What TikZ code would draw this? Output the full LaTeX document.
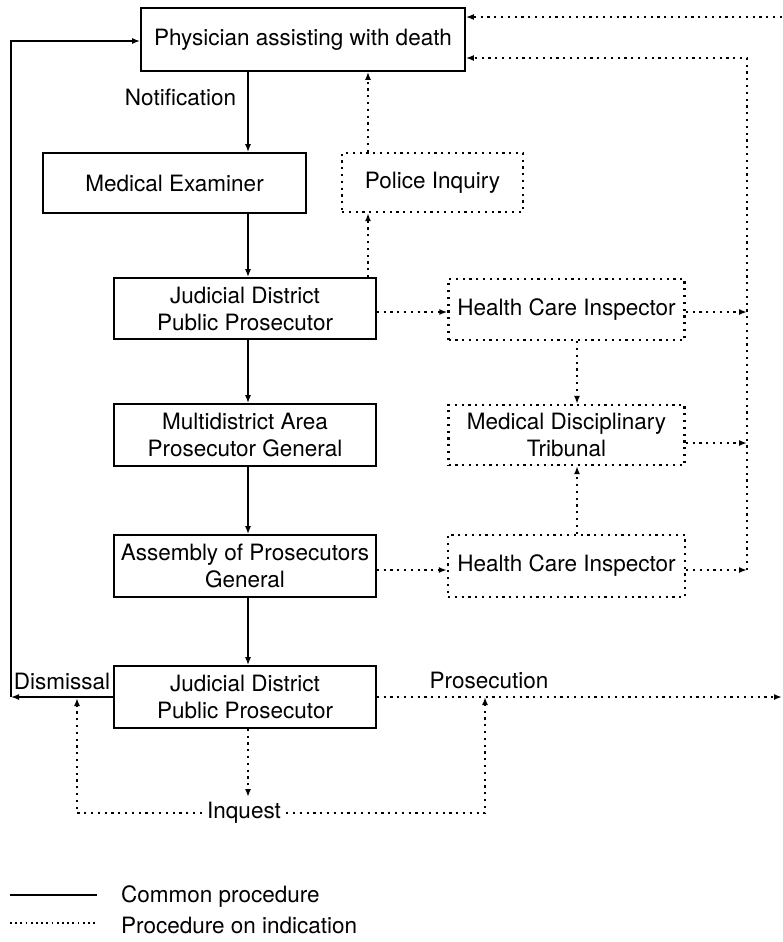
\documentclass[tikz,border=0pt]{standalone}
\usepackage{fontspec}
\setmainfont{TeX Gyre Heros}
\usetikzlibrary{arrows.meta}
\begin{document}
\begin{tikzpicture}[x=1pt,y=-1pt,
  every node/.style={font=\fontsize{22.5}{27}\selectfont, inner sep=0pt, align=center},
  solidbox/.style={draw, line width=1.7pt, minimum width=#1},
  dotbox/.style={draw, line width=2.4pt, dash pattern=on 2.2pt off 4.6pt, minimum width=#1},
  conn/.style={line width=1.4pt, -{Latex[length=8pt,width=6pt]}},
  dconn/.style={line width=2.4pt, dash pattern=on 2.2pt off 4.6pt, -{Latex[length=8pt,width=6pt]}},
  dline/.style={line width=2pt, dash pattern=on 1.8pt off 3.4pt},
  sline/.style={line width=1.4pt}
]
\useasboundingbox (0,0) rectangle (782,942);

% boxes
\node[solidbox=324pt, minimum height=63pt] (box1) at (303,39.5) {Physician assisting with death};
\node[solidbox=263pt, minimum height=60pt] (me) at (174.5,183) {Medical Examiner};
\node[dotbox=181pt, minimum height=59pt] (pol) at (432.5,182.5) {Police Inquiry};
\node[solidbox=262pt, minimum height=61pt] (jd1) at (245,308.5) {Judicial District\\Public Prosecutor};
\node[dotbox=236pt, minimum height=61pt] (hci1) at (566.5,309.5) {Health Care Inspector};
\node[solidbox=262pt, minimum height=62pt] (multi) at (245,435) {Multidistrict Area\\Prosecutor General};
\node[dotbox=236pt, minimum height=60pt] (mdt) at (566.5,435) {Medical Disciplinary\\Tribunal};
\node[solidbox=262pt, minimum height=62pt] (asm) at (245,566) {Assembly of Prosecutors\\General};
\node[dotbox=237pt, minimum height=62pt] (hci2) at (566.5,566) {Health Care Inspector};
\node[solidbox=262pt, minimum height=62pt] (jd2) at (245,697) {Judicial District\\Public Prosecutor};

% labels
\node (notif) at (180.5,97) {Notification};
\node (dism) at (62,681) {Dismissal};
\node (pros) at (489,680) {Prosecution};
\node[inner sep=5pt] (inq) at (244,813) {Inquest};

% helper coordinates
\coordinate (cx) at (248,0);
\coordinate (px) at (368,0);
\coordinate (mx) at (577,0);
\coordinate (tr) at (782,17);
\coordinate (rc) at (747,58);
\coordinate (r1) at (747,312);
\coordinate (r2) at (747,443);
\coordinate (r3) at (747,570);
\coordinate (a1) at (400,312);
\coordinate (a3) at (400,570);
\coordinate (ll) at (11,697);
\coordinate (lt) at (11,41);
\coordinate (pe) at (782,697);
\coordinate (il) at (77,813);
\coordinate (ir) at (485,813);
\coordinate (ilt) at (77,698);
\coordinate (irt) at (485,697);
\coordinate (dn) at (248,797);

% common procedure
\draw[conn] (box1.south -| cx) -- (me.north -| cx);
\draw[conn] (me.south -| cx) -- (jd1.north -| cx);
\draw[conn] (jd1.south -| cx) -- (multi.north -| cx);
\draw[conn] (multi.south -| cx) -- (asm.north -| cx);
\draw[conn] (asm.south -| cx) -- (jd2.north -| cx);
\draw[conn] (jd2.west) -- (ll);
\draw[conn] (ll) -- (lt) -- (lt -| box1.west);

% procedure on indication
\draw[dconn] (jd1.north -| px) -- (pol.south -| px);
\draw[dconn] (pol.north -| px) -- (box1.south -| px);
\draw[dconn] (a1 -| jd1.east) -- (a1 -| hci1.west);
\draw[dconn] (a3 -| asm.east) -- (a3 -| hci2.west);
\draw[dconn] (hci1.south -| mx) -- (mdt.north -| mx);
\draw[dconn] (hci2.north -| mx) -- (mdt.south -| mx);
\draw[dconn] (r1 -| hci1.east) -- (r1);
\draw[dconn] (r2 -| mdt.east) -- (r2);
\draw[dconn] (r3 -| hci2.east) -- (r3);
\draw[dconn] (r3) -- (rc) -- (rc -| box1.east);
\draw[dconn] (tr) -- (tr -| box1.east);
\draw[dconn] (jd2.east) -- (pe);
\draw[dconn] (jd2.south -| cx) -- (dn);
\draw[dconn] (inq.west) -- (il) -- (ilt);
\draw[dconn] (inq.east) -- (ir) -- (irt);

% legend
\coordinate (l1a) at (10,895);
\coordinate (l1b) at (97,895);
\coordinate (l2a) at (10,923);
\coordinate (l2b) at (97,923);
\draw[sline] (l1a) -- (l1b);
\draw[dline] (l2a) -- (l2b);
\node[anchor=west] (leg1) at (121,897) {Common procedure};
\node[anchor=west] (leg2) at (121,925) {Procedure on indication};
\end{tikzpicture}
\end{document}
